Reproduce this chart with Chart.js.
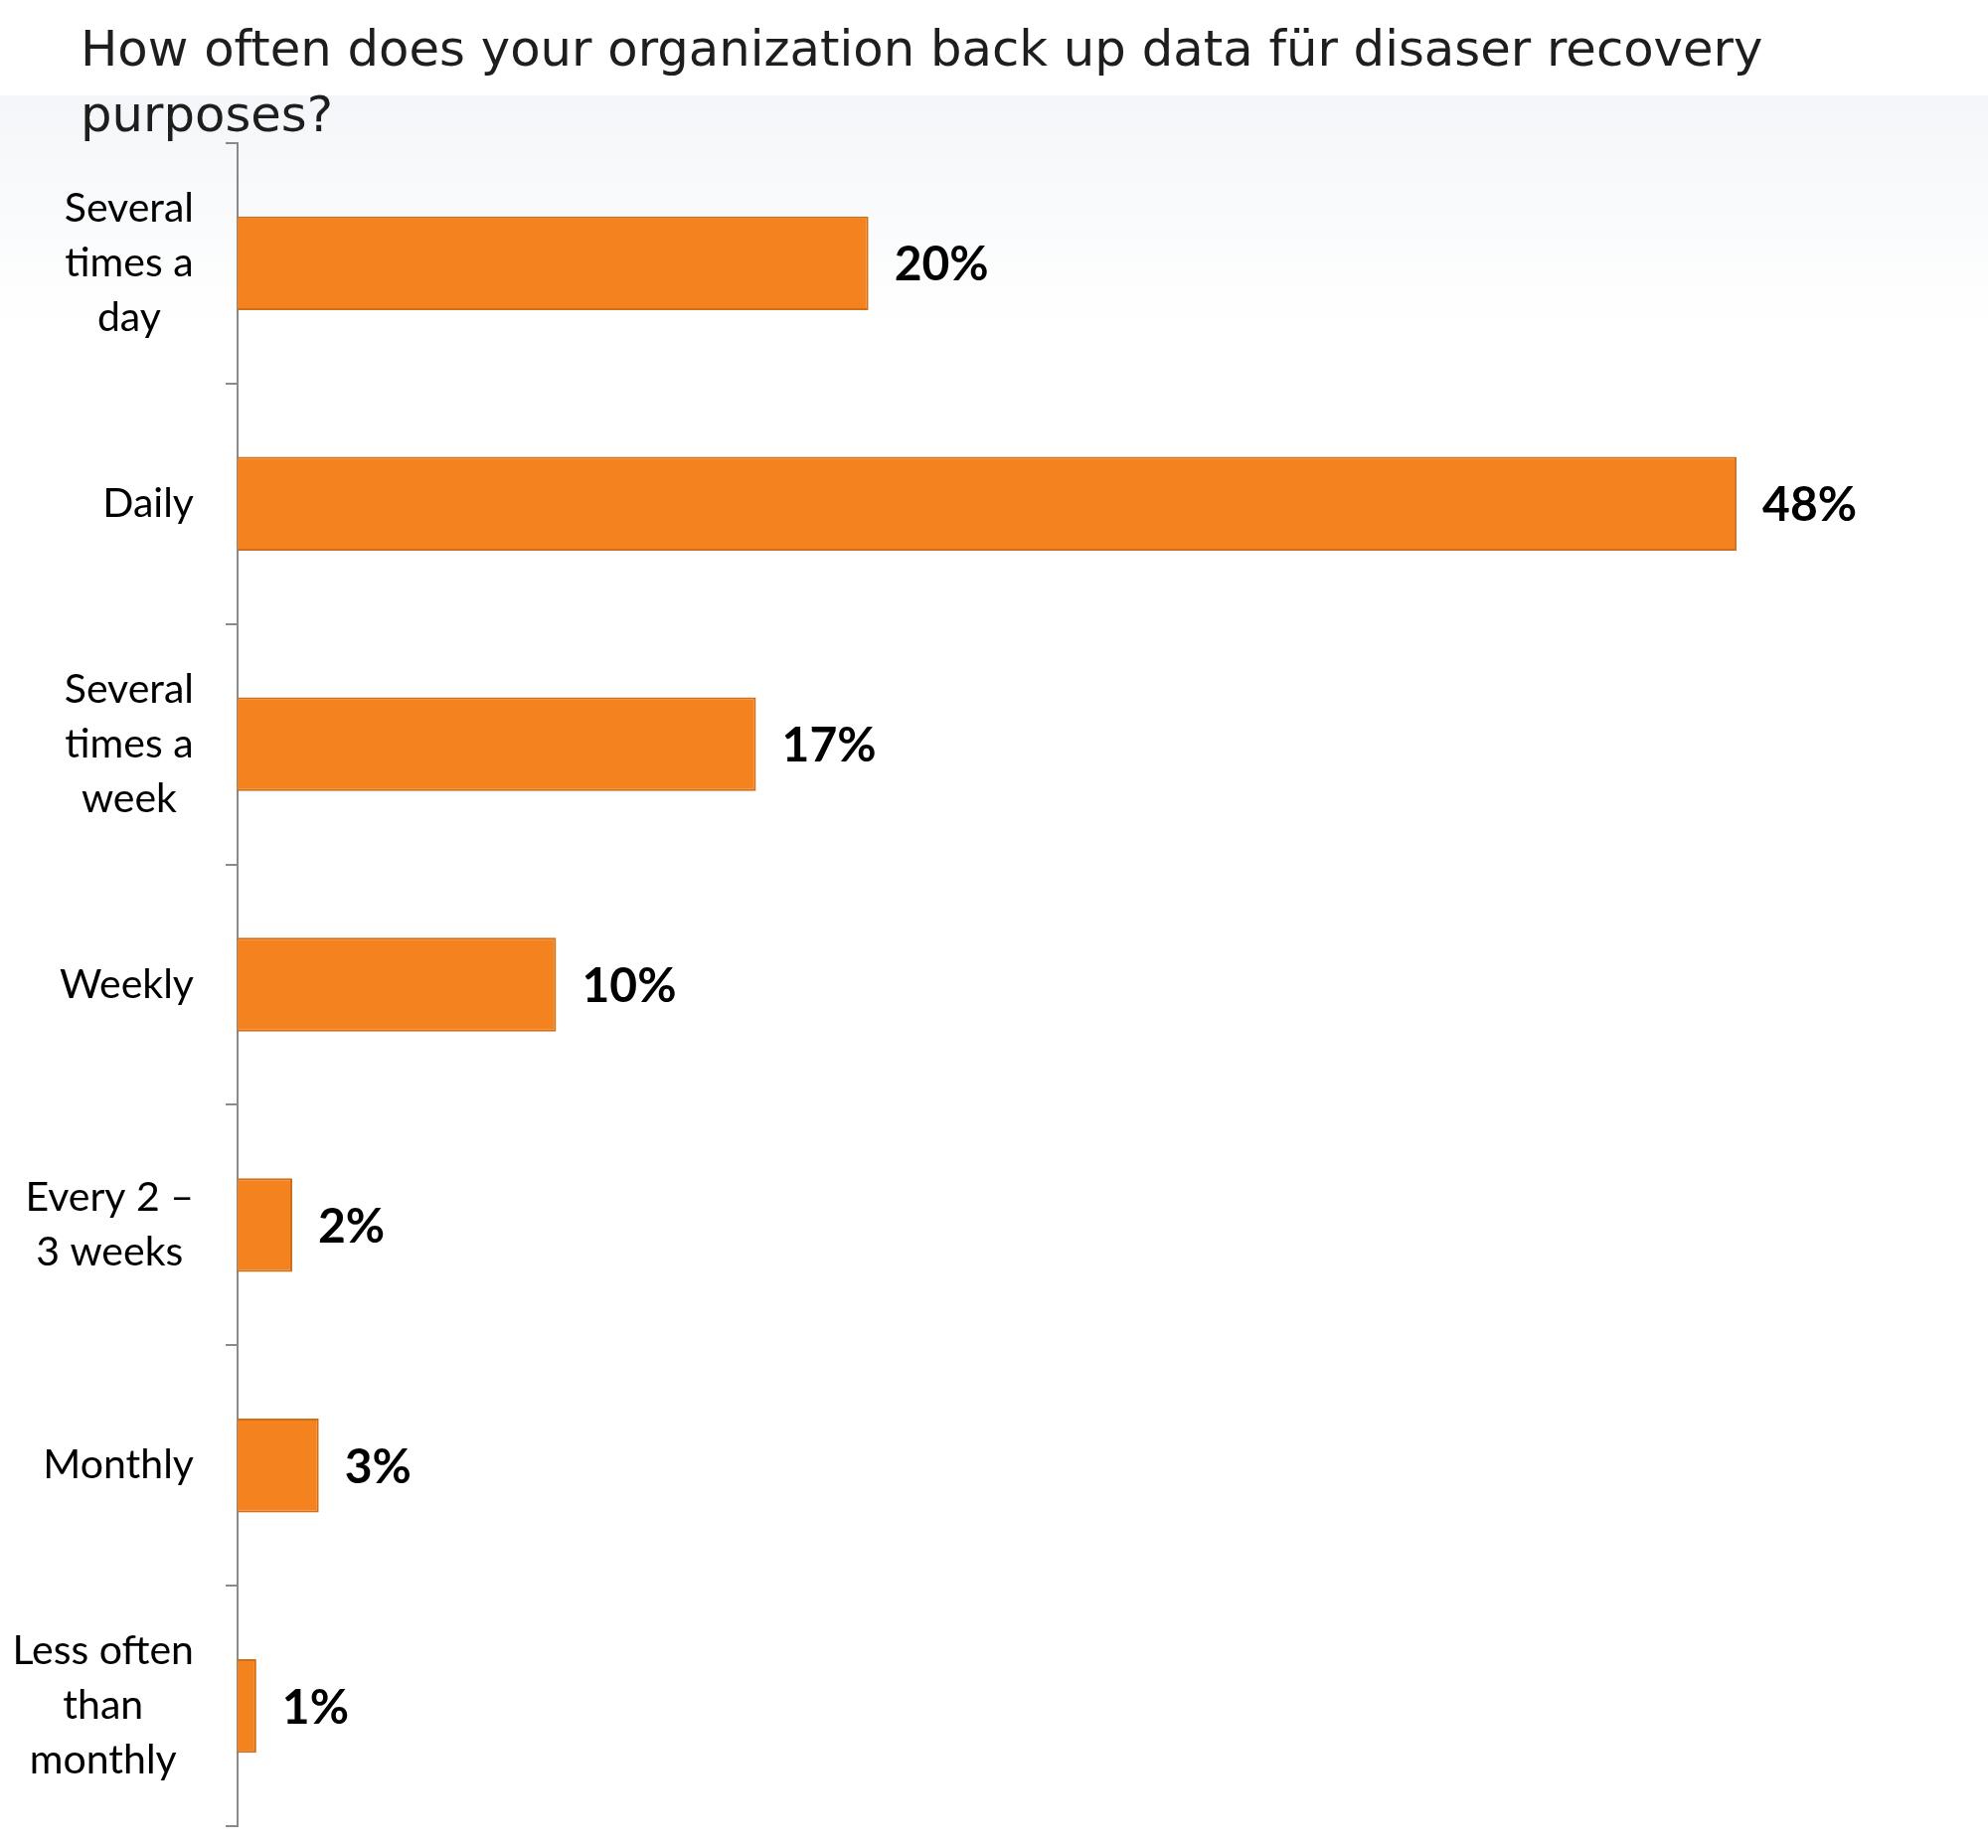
<!DOCTYPE html>
<html>
<head>
<meta charset="utf-8">
<script src="https://cdn.jsdelivr.net/npm/chart.js@4/dist/chart.umd.min.js"></script>
<style>
html,body{margin:0;padding:0;background:#fff;}
#wrap{position:relative;width:2000px;height:1859px;}
</style>
</head>
<body>
<div id="wrap"><canvas id="c" width="2000" height="1859"></canvas></div>
<script>
const titleLines = ["How often does your organization back up data für disaser recovery", "purposes?"];
const categories = [
  ["Several", "times a", "day"],
  ["Daily"],
  ["Several", "times a", "week"],
  ["Weekly"],
  ["Every 2 –", "3 weeks"],
  ["Monthly"],
  ["Less often", "than", "monthly"]
];
const values = [20.2, 48, 16.6, 10.2, 1.75, 2.6, 0.6];
const valueLabels = ["20%", "48%", "17%", "10%", "2%", "3%", "1%"];

const bgPlugin = {
  id: 'bg',
  beforeDraw(chart) {
    const ctx = chart.ctx;
    ctx.save();
    ctx.fillStyle = '#ffffff';
    ctx.fillRect(0, 0, chart.width, chart.height);
    const g = ctx.createLinearGradient(0, 96, 0, 330);
    g.addColorStop(0, '#f4f6f9');
    g.addColorStop(1, '#ffffff');
    ctx.fillStyle = g;
    ctx.fillRect(0, 96, chart.width, 234);
    ctx.restore();
  }
};

const textPlugin = {
  id: 'texts',
  afterDraw(chart) {
    const ctx = chart.ctx;
    const y = chart.scales.y;
    const x = chart.scales.x;
    ctx.save();
    // title
    ctx.fillStyle = '#1e1e1e';
    ctx.font = '49.7px "DejaVu Sans"';
    ctx.textAlign = 'left';
    ctx.textBaseline = 'middle';
    titleLines.forEach((t, i) => ctx.fillText(t, 81, 53 + i * 66));
    // category labels: centered lines, block right-aligned
    ctx.font = '41px Lato';
    ctx.fillStyle = '#000';
    const lh = 55;
    const rightEdge = x.left - 44;
    categories.forEach((lines, i) => {
      const cy = y.getPixelForValue(i);
      let w = 0;
      lines.forEach(l => { w = Math.max(w, ctx.measureText(l).width); });
      const cx = rightEdge - w / 2;
      ctx.textAlign = 'center';
      const startY = cy - (lines.length - 1) * lh / 2;
      lines.forEach((l, k) => ctx.fillText(l, cx, startY + k * lh));
    });
    // value labels
    ctx.font = 'bold 48px Lato';
    ctx.fillStyle = '#000';
    ctx.textAlign = 'left';
    const meta = chart.getDatasetMeta(0);
    meta.data.forEach((bar, i) => {
      ctx.fillText(valueLabels[i], bar.x + 26, bar.y + 2);
    });
    ctx.restore();
  }
};

new Chart(document.getElementById('c'), {
  type: 'bar',
  data: {
    labels: categories,
    datasets: [{
      data: values,
      backgroundColor: '#F4831F',
      borderColor: '#D06E1A',
      borderWidth: 2,
      borderSkipped: 'left',
      categoryPercentage: 1,
      barPercentage: 0.39
    }]
  },
  options: {
    indexAxis: 'y',
    responsive: false,
    animation: false,
    layout: { padding: { left: 227, right: 33, top: 144, bottom: 22 } },
    plugins: { legend: { display: false }, tooltip: { enabled: false }, title: { display: false } },
    scales: {
      x: {
        display: false,
        min: 0,
        max: 55
      },
      y: {
        offset: true,
        ticks: { display: false },
        grid: {
          display: true,
          drawOnChartArea: false,
          drawTicks: true,
          tickLength: 12,
          color: '#8a8a8a',
          lineWidth: 2,
          offset: true
        },
        border: { display: true, color: '#8a8a8a', width: 2 }
      }
    }
  },
  plugins: [bgPlugin, textPlugin]
});
</script>
</body>
</html>
